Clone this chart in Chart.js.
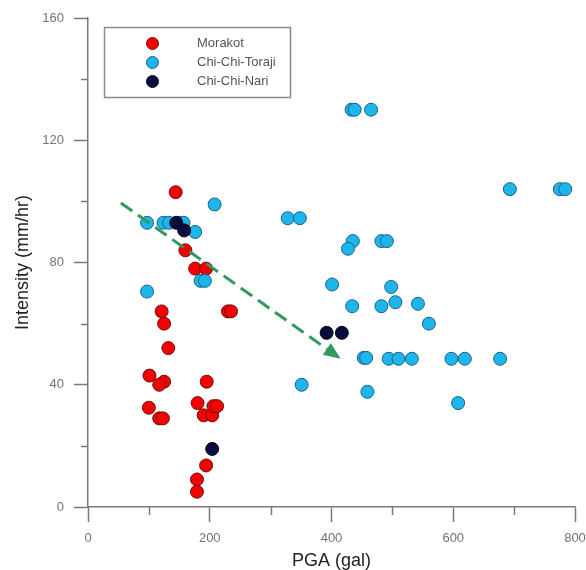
<!DOCTYPE html>
<html>
<head>
<meta charset="utf-8">
<title>PGA vs Intensity</title>
<script src="https://cdn.jsdelivr.net/npm/chart.js@4"></script>
<style>
  body { margin: 0; background: #fff; }
  #wrap { width: 586px; height: 570px; }
</style>
</head>
<body>
<div id="wrap"><canvas id="pgaChart" width="586" height="570"></canvas></div>
<script>
// PGA (gal) and rainfall intensity (mm/hr) per event
var morakotPGA = [144, 160, 176, 194, 121, 125, 230, 235, 132, 101, 125, 117, 195, 100, 180, 117, 123, 190, 204, 206, 212, 194, 179, 179];
var morakotInt = [103, 84, 78, 78, 64, 60, 64, 64, 52, 43, 41, 40, 41, 32.5, 34, 29, 29, 30, 30, 33, 33, 13.6, 9, 5];

var torajiPGA = [208, 97, 124, 133, 150, 157, 176, 185, 192, 97, 433, 438, 465, 693, 775, 784, 328, 348, 435, 427, 482, 491, 401, 498, 434, 482, 505, 542, 560, 453, 457, 494, 510, 532, 597, 619, 677, 351, 459, 608];
var torajiInt = [99, 93, 93, 93, 93, 93, 90, 74, 74, 70.5, 130, 130, 130, 104, 104, 104, 94.5, 94.5, 87, 84.5, 87, 87, 72.8, 72, 65.7, 65.7, 67, 66.5, 60, 48.8, 48.8, 48.5, 48.5, 48.5, 48.5, 48.5, 48.5, 40, 37.7, 34];

var nariPGA = [145, 158, 204, 392, 417];
var nariInt = [93, 90.5, 19, 57, 57];

// dashed trend arrow, start and tip
var trendPGA = [54, 415];
var trendInt = [99.5, 48.5];

var xMajorTicks = [0, 200, 400, 600, 800];
var xMinorTicks = [100, 300, 500, 700];
var yMajorTicks = [0, 40, 80, 120, 160];
var yMinorTicks = [20, 60, 100, 140];

function toPoints(xs, ys) {
  return xs.map(function (x, i) { return { x: x, y: ys[i] }; });
}

var axisGray = '#7a7a7a';
var labelGray = '#737373';
var green = '#2e9a5c';
var fontFamily = '"Liberation Sans", Arial, sans-serif';

// short unlabeled tick marks and the arrow head
var extrasPlugin = {
  id: 'extras',
  afterDatasetsDraw: function (chart) {
    var ctx = chart.ctx;
    var xs = chart.scales.x, ys = chart.scales.y;
    ctx.save();
    ctx.strokeStyle = axisGray;
    ctx.lineWidth = 1.5;
    yMinorTicks.forEach(function (v) {
      var py = Math.round(ys.getPixelForValue(v)) + 0.5;
      ctx.beginPath();
      ctx.moveTo(xs.left - 7, py);
      ctx.lineTo(xs.left, py);
      ctx.stroke();
    });
    xMinorTicks.forEach(function (v) {
      var px = Math.round(xs.getPixelForValue(v)) + 0.5;
      ctx.beginPath();
      ctx.moveTo(px, ys.bottom);
      ctx.lineTo(px, ys.bottom + 8);
      ctx.stroke();
    });

    // arrow head at the end of the trend line
    var x0 = xs.getPixelForValue(trendPGA[0]), y0 = ys.getPixelForValue(trendInt[0]);
    var x1 = xs.getPixelForValue(trendPGA[1]), y1 = ys.getPixelForValue(trendInt[1]);
    var ang = Math.atan2(y1 - y0, x1 - x0);
    var len = 17, half = 7;
    ctx.fillStyle = green;
    ctx.beginPath();
    ctx.moveTo(x1, y1);
    ctx.lineTo(x1 - len * Math.cos(ang) + half * Math.sin(ang), y1 - len * Math.sin(ang) - half * Math.cos(ang));
    ctx.lineTo(x1 - len * Math.cos(ang) - half * Math.sin(ang), y1 - len * Math.sin(ang) + half * Math.cos(ang));
    ctx.closePath();
    ctx.fill();
    ctx.restore();
  },
  afterDraw: function (chart) {
    // boxed legend in the upper left of the plot
    var ctx = chart.ctx;
    var bx = 104.5, by = 27.5, bw = 186, bh = 70;
    ctx.save();
    ctx.fillStyle = '#fff';
    ctx.fillRect(bx, by, bw, bh);
    ctx.strokeStyle = '#8a8a8a';
    ctx.lineWidth = 1.5;
    ctx.strokeRect(bx, by, bw, bh);
    ctx.font = '13px ' + fontFamily;
    ctx.textBaseline = 'middle';
    chart.data.datasets.forEach(function (ds, i) {
      if (ds.type === 'line') return;
      var cy = 43.5 + i * 19;
      ctx.beginPath();
      ctx.arc(152.5, cy, 6, 0, Math.PI * 2);
      ctx.fillStyle = ds.backgroundColor;
      ctx.fill();
      ctx.lineWidth = 1;
      ctx.strokeStyle = ds.borderColor;
      ctx.stroke();
      ctx.fillStyle = '#555';
      ctx.fillText(ds.label, 197, cy);
    });
    ctx.restore();
  }
};

new Chart('pgaChart', {
  type: 'scatter',
  data: {
    datasets: [
      {
        label: 'Morakot',
        data: toPoints(morakotPGA, morakotInt),
        backgroundColor: '#f50000',
        borderColor: '#6a1010',
        borderWidth: 1,
        pointRadius: 6.5,
        pointHoverRadius: 6.5,
        order: 3
      },
      {
        label: 'Chi-Chi-Toraji',
        data: toPoints(torajiPGA, torajiInt),
        backgroundColor: '#1db6ec',
        borderColor: '#1f5f80',
        borderWidth: 1,
        pointRadius: 6.5,
        pointHoverRadius: 6.5,
        order: 2
      },
      {
        label: 'Chi-Chi-Nari',
        data: toPoints(nariPGA, nariInt),
        backgroundColor: '#0b0c3c',
        borderColor: '#05051e',
        borderWidth: 1,
        pointRadius: 6.5,
        pointHoverRadius: 6.5,
        order: 1
      },
      {
        type: 'line',
        label: 'trend',
        data: toPoints(trendPGA, trendInt),
        borderColor: green,
        borderWidth: 3,
        borderDash: [14, 7],
        pointRadius: 0,
        fill: false,
        order: 0
      }
    ]
  },
  options: {
    responsive: false,
    animation: false,
    events: [],
    layout: { padding: { top: 18, right: 11, left: 0, bottom: 0 } },
    plugins: {
      legend: { display: false },
      tooltip: { enabled: false }
    },
    scales: {
      x: {
        type: 'linear',
        min: 0,
        max: 800,
        afterBuildTicks: function (scale) {
          scale.ticks = xMajorTicks.map(function (v) { return { value: v }; });
        },
        afterFit: function (scale) {
          scale.height = 63;
          scale.paddingLeft = 0;
          scale.paddingRight = 0;
        },
        grid: {
          drawOnChartArea: false,
          drawTicks: true,
          tickLength: 15,
          tickColor: axisGray,
          tickWidth: 1.5
        },
        border: { color: axisGray, width: 1.5 },
        ticks: {
          color: labelGray,
          padding: 9,
          maxRotation: 0,
          font: { family: fontFamily, size: 13 }
        },
        title: {
          display: true,
          text: 'PGA (gal)',
          color: '#222',
          padding: { top: 0, bottom: -2 },
          font: { family: fontFamily, size: 18 }
        }
      },
      y: {
        type: 'linear',
        min: 0,
        max: 160,
        afterBuildTicks: function (scale) {
          scale.ticks = yMajorTicks.map(function (v) { return { value: v }; });
        },
        afterFit: function (scale) {
          scale.width = 88;
          scale.paddingTop = 0;
          scale.paddingBottom = 0;
        },
        grid: {
          drawOnChartArea: false,
          drawTicks: true,
          tickLength: 14,
          tickColor: axisGray,
          tickWidth: 1.5
        },
        border: { color: axisGray, width: 1.5 },
        ticks: {
          color: labelGray,
          padding: 10,
          font: { family: fontFamily, size: 13 }
        },
        title: {
          display: true,
          text: 'Intensity (mm/hr)',
          color: '#222',
          padding: { top: 12, bottom: 0 },
          font: { family: fontFamily, size: 18 }
        }
      }
    }
  },
  plugins: [extrasPlugin]
});
</script>
</body>
</html>
